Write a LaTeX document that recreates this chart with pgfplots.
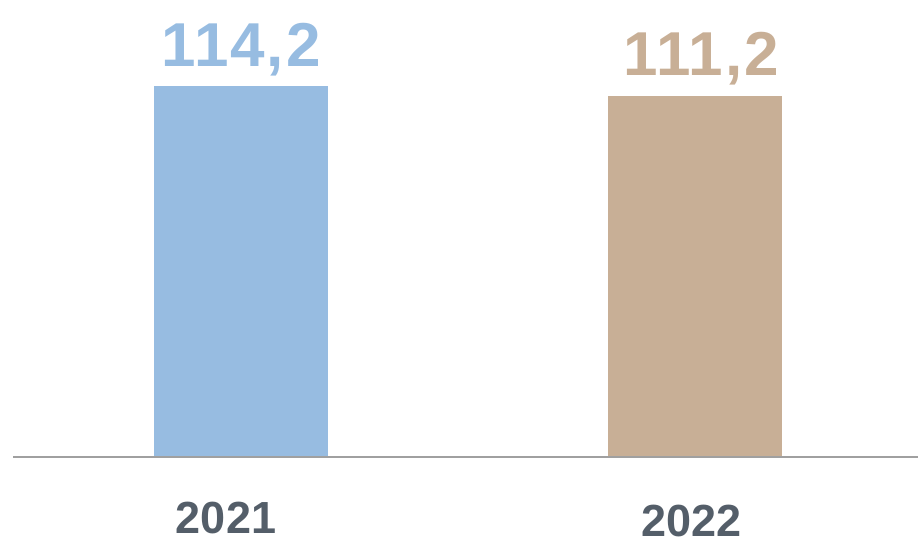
\documentclass[border=0pt]{standalone}
\usepackage{pgfplots}
\pgfplotsset{compat=1.18}
\usepackage{fontspec}
\setmainfont{Liberation Sans}
\definecolor{cblue}{HTML}{97BCE1}
\definecolor{ctan}{HTML}{C8AF96}
\definecolor{cgray}{HTML}{545E69}
\definecolor{cline}{HTML}{A0A0A0}
\begin{document}
\begin{tikzpicture}
\useasboundingbox (-6.5pt,-42.5pt) rectangle (452.5pt,228.5pt);
\begin{axis}[
 at={(0,0)}, anchor=south west,
 scale only axis, width=452.5pt, height=228.5pt,
 xmin=-0.5022, xmax=1.4912, ymin=0, ymax=140.7,
 axis lines=none, clip=false,
 ybar, bar width=87pt,
 nodes near coords={\pgfmathprintnumber[assume math mode=true,use comma,fixed,fixed zerofill,precision=1]{\pgfplotspointmeta}},
 nodes near coords style={anchor=base, inner sep=0pt, yshift=10pt, font=\fontsize{31}{31}\selectfont\bfseries\addfontfeature{LetterSpace=3}},
]
\addplot[fill=cblue, draw=none, bar shift=0pt, nodes near coords style={text=cblue}] coordinates {(0,114.2)};
\addplot[fill=ctan, draw=none, bar shift=0pt, nodes near coords style={text=ctan, xshift=3pt}] coordinates {(1,111.2)};
\draw[cline, line width=1pt] (rel axis cs:0,0) -- (rel axis cs:1,0);
\node[anchor=base, text=cgray, inner sep=0pt, yshift=-38.25pt, font=\fontsize{22.5}{22.5}\selectfont\bfseries] at (axis cs:-0.033,0) {2021};
\node[anchor=base, text=cgray, inner sep=0pt, yshift=-39.5pt, font=\fontsize{22.5}{22.5}\selectfont\bfseries] at (axis cs:0.992,0) {2022};
\end{axis}
\end{tikzpicture}
\end{document}
